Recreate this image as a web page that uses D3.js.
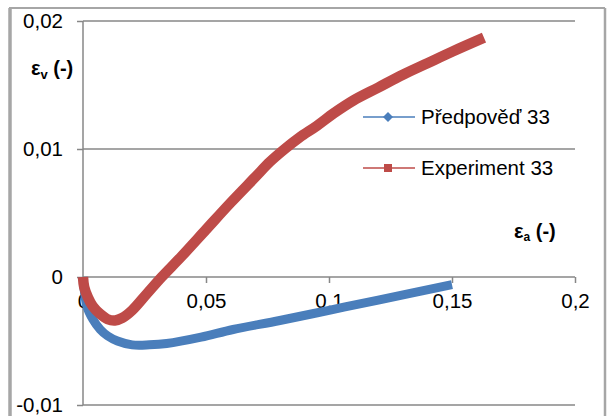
<!DOCTYPE html>
<html>
<head>
<meta charset="utf-8">
<script src="https://cdn.jsdelivr.net/npm/d3@7"></script>
<style>
  html, body { margin: 0; padding: 0; background: #fff; }
  svg text { font-family: "Liberation Sans", Arial, sans-serif; }
</style>
</head>
<body>
<div id="chart"></div>
<script>
// values
const predX = [0, 0.0016, 0.004, 0.007, 0.010, 0.014, 0.020, 0.027, 0.034, 0.048, 0.061, 0.080, 0.100, 0.120, 0.150];
const predY = [0, -0.0023, -0.0033, -0.0041, -0.0046, -0.0050, -0.0053, -0.0053, -0.0052, -0.0047, -0.0041, -0.0034, -0.0026, -0.0018, -0.0006];

const expX = [0, 0.0005, 0.002, 0.004, 0.007, 0.010, 0.013, 0.016, 0.020, 0.026, 0.032, 0.040, 0.050, 0.060, 0.070, 0.076, 0.082, 0.088, 0.095, 0.102, 0.110, 0.120, 0.130, 0.140, 0.150, 0.163];
const expY = [0, -0.0008, -0.0016, -0.0023, -0.0029, -0.0033, -0.0034, -0.0032, -0.0026, -0.0013, 0, 0.0016, 0.0037, 0.0058, 0.0078, 0.0090, 0.0100, 0.0109, 0.0118, 0.0128, 0.0138, 0.0148, 0.0158, 0.0167, 0.0176, 0.0187];

const xTicks = [0, 0.05, 0.1, 0.15, 0.2];
const yTicks = [-0.01, 0, 0.01, 0.02];
const seriesNames = ["Předpověď 33", "Experiment 33"];
const seriesColors = ["#4a7ebb", "#be4b48"];

const width = 607, height = 416;

const svg = d3.select("#chart").append("svg")
    .attr("width", width)
    .attr("height", height);

const x = d3.scaleLinear().domain([0, 0.2]).range([83, 575]);
const y = d3.scaleLinear().domain([-0.01, 0.02]).range([405, 21]);

const fmt = d => String(d).replace(".", ",");

// outer frame
svg.append("line").attr("x1", 10).attr("x2", 10).attr("y1", 8).attr("y2", height)
    .attr("stroke", "#a6a6a6").attr("stroke-width", 3.5);
svg.append("line").attr("x1", 9).attr("x2", 605).attr("y1", 8).attr("y2", 8)
    .attr("stroke", "#a6a6a6").attr("stroke-width", 2);
svg.append("line").attr("x1", 605).attr("x2", 605).attr("y1", 8).attr("y2", height)
    .attr("stroke", "#a6a6a6").attr("stroke-width", 2.5);

// horizontal gridlines
svg.append("g")
    .selectAll("line")
    .data(yTicks.filter(d => d !== 0))
    .enter().append("line")
    .attr("x1", x(0)).attr("x2", x(0.2))
    .attr("y1", d => y(d)).attr("y2", d => y(d))
    .attr("stroke", "#878787").attr("stroke-width", 1.5);

// y axis
const yAxis = svg.append("g")
    .attr("transform", `translate(${x(0)},0)`)
    .call(d3.axisLeft(y).tickValues(yTicks).tickFormat(fmt).tickSize(6).tickPadding(14));

// x axis at y = 0
const xAxis = svg.append("g")
    .attr("transform", `translate(0,${y(0)})`)
    .call(d3.axisBottom(x).tickValues(xTicks).tickFormat(fmt).tickSize(6).tickPadding(10));

[xAxis, yAxis].forEach(a => {
    a.select(".domain").attr("stroke", "#878787").attr("stroke-width", 1.5);
    a.selectAll(".tick line").attr("stroke", "#878787").attr("stroke-width", 1.5);
    a.selectAll(".tick text")
        .attr("fill", "#000")
        .style("font-size", "20.5px")
        .style("font-family", "'Liberation Sans', Arial, sans-serif");
});
yAxis.select(".domain").attr("d", `M0,${y(0.02)}V${y(-0.01)}`);
xAxis.select(".domain").attr("d", `M${x(0)},0H${x(0.2)}`);

// series lines
const line = d3.line()
    .x(d => x(d[0]))
    .y(d => y(d[1]))
    .curve(d3.curveCatmullRom);

const predData = predX.map((v, i) => [v, predY[i]]);
const expData = expX.map((v, i) => [v, expY[i]]);

svg.append("path")
    .datum(predData)
    .attr("d", line)
    .attr("fill", "none")
    .attr("stroke", seriesColors[0])
    .attr("stroke-width", 9)
    .attr("stroke-linejoin", "round");

svg.append("path")
    .datum(expData)
    .attr("d", line)
    .attr("fill", "none")
    .attr("stroke", seriesColors[1])
    .attr("stroke-width", 10.5)
    .attr("stroke-linejoin", "round");

// legend
const legendY = [117, 168];
const legend = svg.append("g");
seriesNames.forEach((name, i) => {
    const g = legend.append("g").attr("transform", `translate(0,${legendY[i]})`);
    g.append("line").attr("x1", 363).attr("x2", 415).attr("y1", 0).attr("y2", 0)
        .attr("stroke", seriesColors[i]).attr("stroke-width", 1.5);
    if (i === 0) {
        g.append("path").attr("d", "M388,-5L393,0L388,5L383,0Z").attr("fill", seriesColors[i]);
    } else {
        g.append("rect").attr("x", 384).attr("y", -4).attr("width", 8).attr("height", 8)
            .attr("fill", seriesColors[i]);
    }
    g.append("text").attr("x", 421).attr("y", 7)
        .style("font-size", "20.5px")
        .attr("fill", "#000")
        .text(name);
});

// axis titles
const yTitle = svg.append("text")
    .attr("x", 31).attr("y", 75)
    .style("font-size", "20px").style("font-weight", "bold");
yTitle.append("tspan").text("ε");
yTitle.append("tspan").attr("dy", 4).style("font-size", "13px").text("v");
yTitle.append("tspan").attr("dy", -4).text(" (-)");

const xTitle = svg.append("text")
    .attr("x", 514).attr("y", 238)
    .style("font-size", "20px").style("font-weight", "bold");
xTitle.append("tspan").text("ε");
xTitle.append("tspan").attr("dy", 3).style("font-size", "12px").text("a");
xTitle.append("tspan").attr("dy", -3).text(" (-)");
</script>
</body>
</html>
